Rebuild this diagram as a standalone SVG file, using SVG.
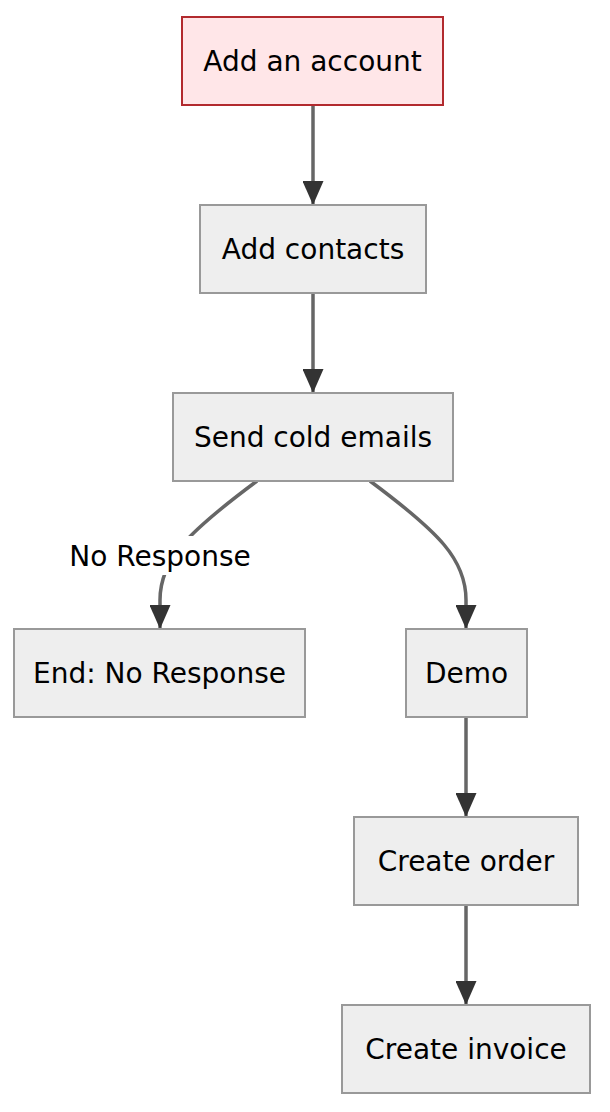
<svg xmlns="http://www.w3.org/2000/svg" width="610" height="1112" viewBox="0 0 610 1112">
<style>
.node rect{fill:#eeeeee;stroke:#999999;stroke-width:2}
.node.start rect{fill:#ffe6e8;stroke:#b22a2e}
text{font-family:"DejaVu Sans","Verdana",sans-serif;font-size:28px;fill:#000;text-anchor:middle}
.edge{fill:none;stroke:#666666;stroke-width:3.5}
</style>
<defs>
<marker id="arrow" markerUnits="userSpaceOnUse" viewBox="0 0 24 21" refX="24" refY="10.5" markerWidth="24" markerHeight="21" orient="auto">
<path d="M0,0 L24,10.5 L0,21 z" fill="#333333"/>
</marker>
</defs>
<rect width="610" height="1112" fill="#ffffff"/>
<g id="connectors">
<path class="edge" d="M313,105 L313,205" marker-end="url(#arrow)"/>
<path class="edge" d="M313,293 L313,393" marker-end="url(#arrow)"/>
<path class="edge" d="M257,481 C187,533 160,560 160,600 L160,629" marker-end="url(#arrow)"/>
<path class="edge" d="M370,481 C440,533 466,560 466,600 L466,629" marker-end="url(#arrow)"/>
<path class="edge" d="M466,717 L466,817" marker-end="url(#arrow)"/>
<path class="edge" d="M466,905 L466,1005" marker-end="url(#arrow)"/>
<g id="label-no-response">
<rect x="70" y="536" width="180" height="39" fill="#ffffff"/>
<text x="160" y="566">No Response</text>
</g>
</g>
<g id="node-add-account" class="node start">
<rect x="182" y="17" width="261" height="88"/>
<text x="312.5" y="71">Add an account</text>
</g>
<g id="node-add-contacts" class="node">
<rect x="200" y="205" width="226" height="88"/>
<text x="313" y="259">Add contacts</text>
</g>
<g id="node-send-cold-emails" class="node">
<rect x="173" y="393" width="280" height="88"/>
<text x="313" y="447">Send cold emails</text>
</g>
<g id="node-end-no-response" class="node">
<rect x="14" y="629" width="291" height="88"/>
<text x="159.5" y="683">End: No Response</text>
</g>
<g id="node-demo" class="node">
<rect x="406" y="629" width="121" height="88"/>
<text x="466.5" y="683">Demo</text>
</g>
<g id="node-create-order" class="node">
<rect x="354" y="817" width="224" height="88"/>
<text x="466" y="871">Create order</text>
</g>
<g id="node-create-invoice" class="node">
<rect x="342" y="1005" width="248" height="88"/>
<text x="466" y="1059">Create invoice</text>
</g>
</svg>
